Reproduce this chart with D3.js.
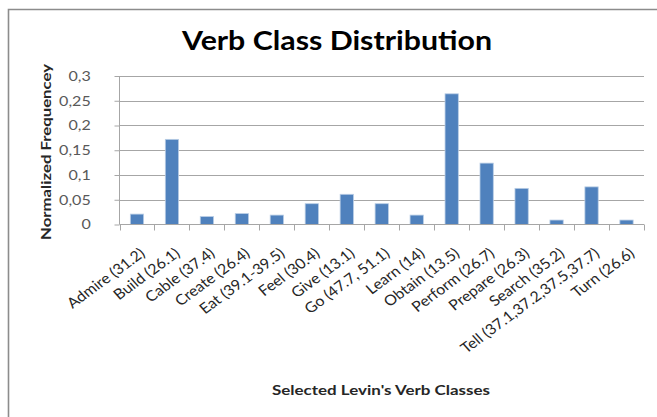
<!DOCTYPE html>
<html>
<head>
<meta charset="utf-8">
<script src="https://cdn.jsdelivr.net/npm/d3@7"></script>
<style>
  html, body { margin: 0; padding: 0; background: #fff; }
  svg { display: block; }
  text { font-family: Lato, "Open Sans", sans-serif; }
</style>
</head>
<body>
<div id="chart"></div>
<script>
const categories = ["Admire (31.2)", "Build (26.1)", "Cable (37.4)", "Create (26.4)", "Eat (39.1-39.5)",
  "Feel (30.4)", "Give (13.1)", "Go (47.7, 51.1)", "Learn (14)", "Obtain (13.5)", "Perform (26.7)",
  "Prepare (26.3)", "Search (35.2)", "Tell (37.1,37.2,37.5,37.7)", "Turn (26.6)"];
const values = [0.021, 0.172, 0.016, 0.022, 0.019, 0.042, 0.061, 0.042, 0.019, 0.264, 0.124, 0.073, 0.009, 0.076, 0.009];
const yTicks = [0, 0.05, 0.1, 0.15, 0.2, 0.25, 0.3];
const yTickLabels = ["0", "0,05", "0,1", "0,15", "0,2", "0,25", "0,3"];
const title = "Verb Class Distribution";
const xTitle = "Selected Levin's Verb Classes";
const yTitle = "Normalized Frequencey";

const W = 657, H = 417;
const plot = { left: 119.5, right: 644, top: 76, bottom: 224.5 };

const svg = d3.select("#chart").append("svg").attr("width", W).attr("height", H);

// chart border (top and left visible)
svg.append("path")
  .attr("d", `M${8.5},${H} L${8.5},${9.5} L${W},${9.5}`)
  .attr("fill", "none").attr("stroke", "#8c8c8c").attr("stroke-width", 1.6);

const x = d3.scaleBand().domain(categories).range([plot.left, plot.right])
  .paddingInner(0.62).paddingOuter(0.31);
const y = d3.scaleLinear().domain([0, 0.3]).range([plot.bottom, plot.top]);

// gridlines
svg.append("g").selectAll("line").data(yTicks.slice(1)).join("line")
  .attr("x1", plot.left).attr("x2", plot.right)
  .attr("y1", d => Math.round(y(d)) + 0.5).attr("y2", d => Math.round(y(d)) + 0.5)
  .attr("stroke", "#a6a6a6").attr("stroke-width", 1.1);

// bars
svg.append("g").selectAll("rect").data(values).join("rect")
  .attr("x", (d, i) => x(categories[i]))
  .attr("width", x.bandwidth())
  .attr("y", d => y(d))
  .attr("height", d => y(0) - y(d))
  .attr("fill", "#4f81bd")
  .attr("stroke", "#b9cde5").attr("stroke-width", 0.8);

// y axis
const yAxis = d3.axisLeft(y).tickValues(yTicks)
  .tickFormat((d, i) => yTickLabels[i]).tickSize(5).tickPadding(14);
const gy = svg.append("g").attr("transform", `translate(${plot.left},0)`).call(yAxis);
gy.select(".domain").attr("stroke", "#a6a6a6").attr("d", `M0,${plot.top}V${plot.bottom}`);
gy.selectAll(".tick line").attr("stroke", "#a6a6a6");
gy.selectAll(".tick text").attr("font-size", 14).attr("fill", "#595959")
  .attr("font-family", "Lato, sans-serif")
  .attr("transform", "scale(1.15,1)").attr("dx", -6);

// x axis
const step = x.step();
const boundaries = d3.range(categories.length + 1).map(i => plot.left + i * step);
svg.append("line").attr("x1", plot.left).attr("x2", plot.right)
  .attr("y1", plot.bottom).attr("y2", plot.bottom).attr("stroke", "#a6a6a6").attr("stroke-width", 1.1);
svg.append("g").selectAll("line").data(boundaries).join("line")
  .attr("x1", d => Math.round(d) + 0.5).attr("x2", d => Math.round(d) + 0.5)
  .attr("y1", plot.bottom).attr("y2", plot.bottom + 6)
  .attr("stroke", "#a6a6a6");

svg.append("g").selectAll("text").data(categories).join("text")
  .attr("transform", d => `translate(${x(d) + x.bandwidth() / 2 + 9},255) scale(1.1,1) rotate(-39)`)
  .attr("text-anchor", "end")
  .attr("font-size", 14.5)
  .attr("fill", "#262626")
  .text(d => d);

// titles
svg.append("text").attr("x", 337).attr("y", 50).attr("text-anchor", "middle")
  .attr("font-size", 27).attr("font-weight", "bold").attr("fill", "#000")
  .attr("textLength", 310).attr("lengthAdjust", "spacingAndGlyphs")
  .text(title);

svg.append("text").attr("x", 381).attr("y", 395).attr("text-anchor", "middle")
  .attr("font-size", 13).attr("font-weight", "bold").attr("fill", "#262626")
  .attr("textLength", 218).attr("lengthAdjust", "spacingAndGlyphs")
  .text(xTitle);

svg.append("text").attr("transform", "translate(51,152) rotate(-90)").attr("text-anchor", "middle")
  .attr("font-size", 13).attr("font-weight", "bold").attr("fill", "#262626")
  .attr("textLength", 176).attr("lengthAdjust", "spacingAndGlyphs")
  .text(yTitle);
</script>
</body>
</html>
